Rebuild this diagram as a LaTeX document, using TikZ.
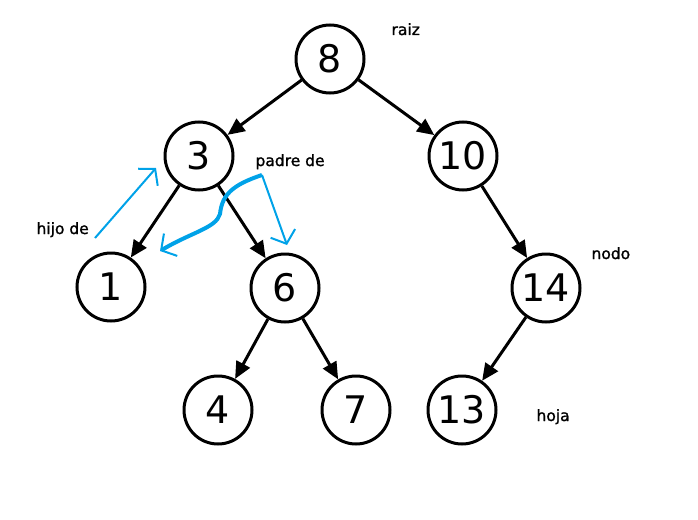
\documentclass[tikz,border=0pt]{standalone}
\usepackage{fontspec}
\setmainfont{DejaVu Sans}
\newfontfamily\notefont[FakeBold=1.3]{DejaVu Sans}
\usetikzlibrary{arrows.meta}
\definecolor{paintblue}{RGB}{0,162,232}

\begin{document}
\begin{tikzpicture}[x=1pt,y=-1pt,
		key/.style={circle, draw, line width=3pt, minimum size=68pt, inner sep=0pt,
			font=\fontsize{38}{38}\selectfont},
		edge/.style={-{Triangle[length=17pt,width=15pt]}, line width=3pt},
		note/.style={anchor=base west, font=\notefont\fontsize{15.5}{16}\selectfont},
		hand/.style={paintblue, line width=2pt, -{Straight Barb[length=11pt,width=26pt,line width=2pt]}}]
		\useasboundingbox (0,0) rectangle (698,519);
		% keys
		\node[key] (n8) at (330,59) {8};
		\node[key] (n3) at (199,156) {3};
		\node[key] (n10) at (463,156) {10};
		\node[key] (n1) at (111,287) {1};
		\node[key] (n6) at (285,288) {6};
		\node[key] (n14) at (546,288) {14};
		\node[key] (n4) at (218,410) {4};
		\node[key] (n7) at (356,410) {7};
		\node[key] (n13) at (462,410) {13};
		
		% edges
		\draw[edge] (n8)--(n3);
		\draw[edge] (n8)--(n10);
		\draw[edge] (n3)--(n1);
		\draw[edge] (n3)--(n6);
		\draw[edge] (n10)--(n14);
		\draw[edge] (n6)--(n4);
		\draw[edge] (n6)--(n7);
		\draw[edge] (n14)--(n13);
		
		% notes
		\node[note] (raiz) at (388,35) {raiz};
		\node[note] (padre) at (252,166) {padre de};
		\node[note] (hijo) at (33,234) {hijo de};
		\node[note] (nodo) at (588,259) {nodo};
		\node[note] (hoja) at (533,421) {hoja};
		
		% hand drawn arrows
		\coordinate (hijoA) at (95,238);
		\coordinate (hijoB) at (156,168);
		\coordinate (peak) at (262,175);
		\coordinate (padreB) at (287,245);
		\coordinate (padreC) at (160,251);
		\draw[hand] (hijoA)--(hijoB); % hijo de
		\draw[hand] (peak)--(padreB); % padre de
		\draw[hand, line width=4pt] (peak) .. controls (232,185) and (222,195) .. (220,214)
		.. controls (216,228) and (192,232) .. (padreC);
		
	\end{tikzpicture}
\end{document}
